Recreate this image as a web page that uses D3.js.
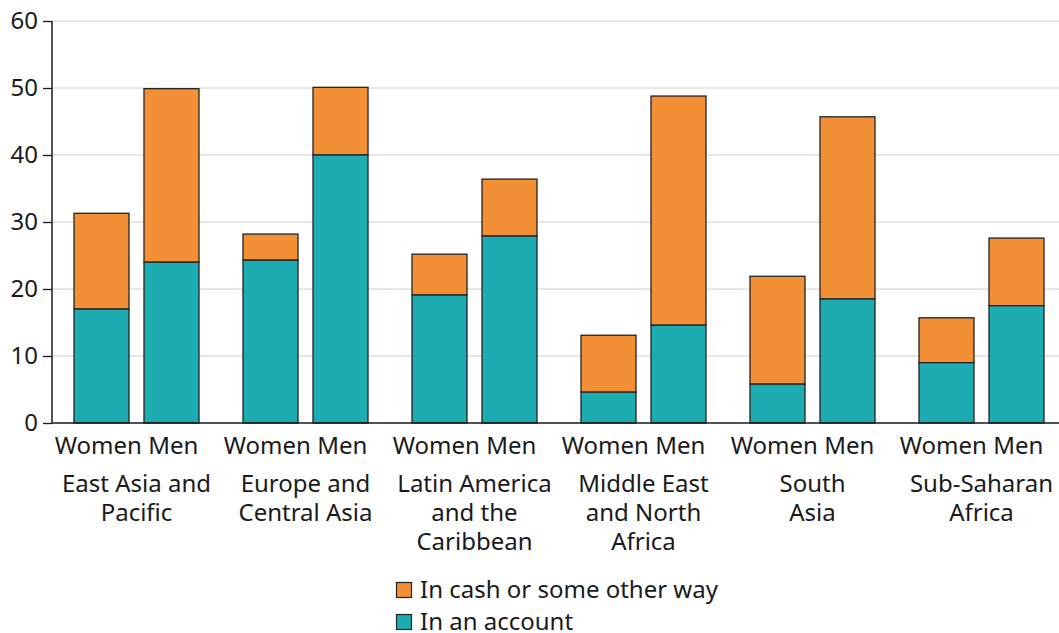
<!DOCTYPE html>
<html>
<head>
<meta charset="utf-8">
<script src="https://cdn.jsdelivr.net/npm/d3@7"></script>
<style>
  body { margin: 0; background: #fff; }
  text { font-family: "Noto Sans", sans-serif; fill: #1a1a1a; }
</style>
</head>
<body>
<svg class="chart"></svg>
<script>
// data
var regions = ["East Asia and|Pacific", "Europe and|Central Asia", "Latin America|and the|Caribbean", "Middle East|and North|Africa", "South|Asia", "Sub-Saharan|Africa"];
var genders = ["Women", "Men"];
var accountWomen = [17.0, 24.3, 19.1, 4.6, 5.8, 9.0];
var accountMen = [24.0, 40.0, 27.9, 14.6, 18.5, 17.5];
var totalWomen = [31.3, 28.2, 25.2, 13.1, 21.9, 15.7];
var totalMen = [49.9, 50.1, 36.4, 48.8, 45.7, 27.6];
var yTicks = [0, 10, 20, 30, 40, 50, 60];
var seriesNames = ["In cash or some other way", "In an account"];
var colors = { account: "#1eacb3", cash: "#f39036" };

// define margins
var margin = {top: 21, right: 0, bottom: 210, left: 52},
  width = 1059 - margin.left - margin.right,
  height = 633 - margin.top - margin.bottom;

var svg = d3.select(".chart")
  .attr("width", 1059)
  .attr("height", 633);

var chart = svg.append("g")
  .attr("transform", "translate(" + margin.left + "," + margin.top + ")");

// build rows
var rows = [];
regions.forEach(function(r, i) {
  rows.push({region: r, gender: "Women", account: accountWomen[i], total: totalWomen[i]});
  rows.push({region: r, gender: "Men", account: accountMen[i], total: totalMen[i]});
});

// scales
var x0 = d3.scaleBand().domain(regions).range([0, 1014]);
var x1 = d3.scaleBand().domain(genders).range([22, 147]).paddingInner(0.2143).paddingOuter(0);
var y = d3.scaleLinear().domain([0, 60]).range([height, 0]);

// gridlines
chart.selectAll(".grid")
  .data(yTicks.slice(1))
  .enter().append("line")
  .attr("x1", 0).attr("x2", width)
  .attr("y1", function(d) { return y(d); })
  .attr("y2", function(d) { return y(d); })
  .attr("stroke", "#d0d0d0")
  .attr("stroke-width", 1.2);

// bars
var groups = chart.selectAll(".bar")
  .data(rows)
  .enter().append("g")
  .attr("transform", function(d) { return "translate(" + (x0(d.region) + x1(d.gender)) + ",0)"; });

groups.append("rect")
  .attr("y", function(d) { return y(d.total); })
  .attr("height", function(d) { return y(d.account) - y(d.total); })
  .attr("width", x1.bandwidth())
  .attr("fill", colors.cash)
  .attr("stroke", "#222")
  .attr("stroke-width", 1.3);

groups.append("rect")
  .attr("y", function(d) { return y(d.account); })
  .attr("height", function(d) { return height - y(d.account); })
  .attr("width", x1.bandwidth())
  .attr("fill", colors.account)
  .attr("stroke", "#222")
  .attr("stroke-width", 1.3);

// y-axis
var yAxis = d3.axisLeft(y).tickValues(yTicks).tickSize(9).tickPadding(5);
var yg = chart.append("g").call(yAxis);
yg.select(".domain").attr("stroke", "#1a1a1a").attr("stroke-width", 1.5).attr("d", "M0," + height + "V0");
yg.selectAll(".tick line").attr("stroke", "#1a1a1a").attr("stroke-width", 1.3);
yg.selectAll(".tick text").style("font-size", "24px").attr("fill", "#1a1a1a");

// x baseline
chart.append("line")
  .attr("x1", 0).attr("x2", width)
  .attr("y1", height).attr("y2", height)
  .attr("stroke", "#1a1a1a")
  .attr("stroke-width", 1.5);

// gender labels (one line per region)
chart.selectAll(".genders")
  .data(regions)
  .enter().append("text")
  .attr("x", function(d) { return x0(d) + x0.bandwidth() / 2 - 10; })
  .attr("y", height + 31)
  .style("text-anchor", "middle")
  .style("font-size", "24px")
  .text(genders.join(" "));

// region labels
var rg = chart.selectAll(".region")
  .data(regions)
  .enter().append("text")
  .attr("x", function(d) { return x0(d) + x0.bandwidth() / 2; })
  .attr("y", height + 69)
  .style("text-anchor", "middle")
  .style("font-size", "24px");

rg.selectAll("tspan")
  .data(function(d) { return d.split("|").map(function(t) { return {t: t, x: x0(d) + x0.bandwidth() / 2}; }); })
  .enter().append("tspan")
  .attr("x", function(d) { return d.x; })
  .attr("dy", function(d, i) { return i === 0 ? 0 : 29; })
  .text(function(d) { return d.t; });

// legend
var legend = svg.selectAll(".legend")
  .data(seriesNames)
  .enter().append("g")
  .attr("transform", function(d, i) { return "translate(396," + (582 + i * 32) + ")"; });

legend.append("rect")
  .attr("x", 0.5).attr("y", 0.5)
  .attr("width", 15).attr("height", 15)
  .attr("fill", function(d, i) { return i === 0 ? colors.cash : colors.account; })
  .attr("stroke", "#222")
  .attr("stroke-width", 1.2);

legend.append("text")
  .attr("x", 24)
  .attr("y", 16)
  .style("font-size", "24px")
  .text(function(d) { return d; });
</script>
</body>
</html>
